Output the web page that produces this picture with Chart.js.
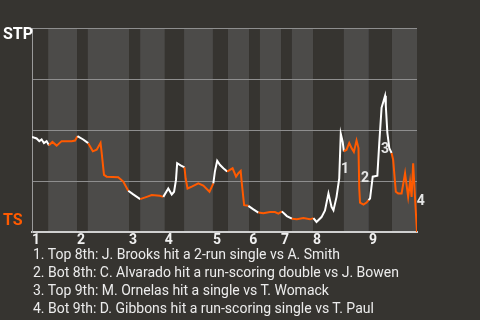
<!DOCTYPE html>
<html>
<head>
<meta charset="utf-8">
<script src="https://cdn.jsdelivr.net/npm/chart.js@4"></script>
<style>
  html, body { margin: 0; padding: 0; background: #363430; }
  #wrap { position: relative; width: 480px; height: 320px; }
  #notes {
    position: absolute; left: 33px; top: 245px;
    font: 14px Roboto, sans-serif; line-height: 18px; color: #ececec;
  }
</style>
</head>
<body>
<div id="wrap">
  <canvas id="wpChart" width="480" height="320"></canvas>
  <div id="notes"></div>
</div>
<script>
// Ход игры: 0..100 по ширине графика, вероятность победы STP в процентах
const gameProgress = [
    0, 1.2, 1.9, 2.5, 3.1, 3.8, 4.4, 5.3, 6.4, 7.7, 10.3, 11.2, 11.8, 13.3, 14.6, 15.8, 16.8, 17.8,
    18.1, 18.7, 19.4, 22.4, 23.7, 25.0, 26.3, 28.1, 29.8, 31.1, 33.2, 34.1, 35.4, 36.3, 36.9, 37.4,
    37.7, 38.6, 39.6, 39.9, 40.4, 41.5, 43.2, 44.5, 46.1, 47.1, 47.5, 48.1, 48.8, 49.7, 50.7, 51.4,
    52.1, 53.0, 53.6, 54.2, 54.5, 55.1, 56.2, 57.5, 58.8, 60.1, 61.8, 63.1, 64.0, 64.9, 66.2, 67.5,
    68.8, 70.5, 72.2, 73.1, 73.9, 75.2, 76.1, 77.0, 77.8, 78.3, 79.1, 79.8, 80.2, 80.7, 81.0, 81.7,
    82.4, 83.0, 83.6, 84.3, 84.8, 85.0, 85.2, 86.1, 86.9, 87.4, 87.8, 88.5, 89.7, 90.2, 90.8, 91.2,
    91.7, 91.9, 92.3, 92.8, 93.4, 93.8, 94.5, 95.1, 96.0, 96.9, 97.3, 97.7, 98.2, 98.6, 99.0, 99.5, 100
];
const stpWinPct = [
    46.7, 45.9, 44.6, 45.4, 43.6, 44.6, 42.6, 44.2, 42.4, 44.6, 44.6, 44.9, 47.0, 45.4, 43.6, 39.6, 40.4, 43.7,
    38.8, 28.1, 27.2, 26.9, 24.8, 20.3, 18.5, 16.2, 17.3, 18.2, 17.8, 17.3, 21.4, 18.5, 19.8, 25.6,
    33.8, 32.7, 31.7, 26.4, 21.4, 22.3, 23.9, 22.8, 19.8, 23.9, 29.7, 35.0, 33.0, 31.3, 29.7, 30.5,
    31.3, 27.2, 28.9, 30.0, 23.9, 13.2, 12.9, 11.2, 9.6, 9.3, 9.9, 9.9, 9.1, 10.2, 7.9, 6.6,
    6.3, 6.9, 6.3, 6.9, 5.0, 7.4, 10.7, 19.0, 12.4, 10.7, 17.3, 26.4, 48.2, 44.2, 39.6, 40.4,
    43.7, 41.2, 39.3, 44.9, 41.2, 21.4, 14.5, 13.5, 14.5, 15.7, 16.5, 27.2, 27.7, 43.7, 61.0, 63.5,
    66.8, 61.9, 48.7, 41.2, 38.8, 35.5, 19.8, 19.0, 19.0, 28.9, 23.1, 17.3, 24.8, 17.3, 33.8, 16.5, 0
];

// Начало каждой половины иннинга (верх, низ, верх, ...)
const halfStarts = [0, 4.2, 11.7, 14.5, 25.2, 28.1, 34.5, 39.5, 47.0, 50.9, 56.4, 59.2, 64.7, 67.5, 73.0, 81.0, 87.5, 93.5];
const gameEnd = 100;
const inningLabels = ['1', '2', '3', '4', '5', '6', '7', '8', '9'];

// Ключевые моменты: номер, место на графике, описание
const keyNums = ['1', '2', '3', '4'];
const keyX = [81.3, 86.5, 91.7, 101.0];
const keyY = [30.7, 26.2, 40.6, 14.9];
const keyNotes = [
    '1. Top 8th: J. Brooks hit a 2-run single vs A. Smith',
    '2. Bot 8th: C. Alvarado hit a run-scoring double vs J. Bowen',
    '3. Top 9th: M. Ornelas hit a single vs T. Womack',
    '4. Bot 9th: D. Gibbons hit a run-scoring single vs T. Paul'
];

const topColor = '#ffffff';
const botColor = '#ff5a00';

function halfIndex(x) {
    let idx = 0;
    for (let i = 0; i < halfStarts.length; i++) {
        if (x >= halfStarts[i]) idx = i;
    }
    return idx;
}

// Полосы иннингов под сеткой
const bandsPlugin = {
    id: 'bands',
    beforeDraw(chart) {
        const { ctx, chartArea } = chart;
        const xs = chart.scales.x;
        ctx.save();
        for (let i = 0; i < halfStarts.length; i++) {
            const x0 = xs.getPixelForValue(halfStarts[i]);
            const x1 = xs.getPixelForValue(i + 1 < halfStarts.length ? halfStarts[i + 1] : gameEnd);
            ctx.fillStyle = i % 2 === 0 ? '#363430' : '#4c4b49';
            ctx.fillRect(x0, chartArea.top, x1 - x0, chartArea.bottom - chartArea.top);
        }
        ctx.restore();
    }
};

// Названия команд и номера ключевых моментов
const labelsPlugin = {
    id: 'labels',
    afterDraw(chart) {
        const { ctx, chartArea } = chart;
        ctx.save();
        ctx.font = 'bold 16px Roboto';
        ctx.textAlign = 'left';
        ctx.textBaseline = 'top';
        ctx.fillStyle = '#ffffff';
        ctx.fillText('STP', 3, chartArea.top - 1);
        ctx.textBaseline = 'bottom';
        ctx.fillStyle = botColor;
        ctx.fillText('TS', 3, chartArea.bottom - 3);

        ctx.font = 'bold 14px Roboto';
        ctx.textAlign = 'center';
        ctx.textBaseline = 'middle';
        ctx.fillStyle = '#e6e6e6';
        keyNums.forEach((n, i) => {
            ctx.fillText(n, chart.scales.x.getPixelForValue(keyX[i]), chart.scales.y.getPixelForValue(keyY[i]));
        });
        ctx.restore();
    }
};

const wpConfig = {
    type: 'line',
    data: {
        datasets: [{
            data: gameProgress.map((x, i) => ({ x: x, y: stpWinPct[i] })),
            borderWidth: 2,
            borderColor: topColor,
            pointRadius: 0,
            tension: 0,
            segment: {
                borderColor: c => halfIndex((c.p0.parsed.x + c.p1.parsed.x) / 2) % 2 === 0 ? topColor : botColor
            }
        }]
    },
    options: {
        responsive: false,
        animation: false,
        layout: { padding: { left: 32, right: 63, top: 28, bottom: 71 } },
        plugins: {
            legend: { display: false },
            tooltip: { enabled: false }
        },
        scales: {
            x: {
                type: 'linear',
                min: 0,
                max: gameEnd,
                afterBuildTicks: scale => {
                    scale.ticks = halfStarts.filter((v, i) => i % 2 === 0).map(v => ({ value: v }));
                },
                ticks: {
                    autoSkip: false,
                    align: 'start',
                    maxRotation: 0,
                    padding: 0,
                    color: '#f0f0f0',
                    font: { family: 'Roboto', size: 14, weight: 'bold' },
                    callback: (v, i) => inningLabels[i]
                },
                grid: { display: false, drawTicks: false },
                border: { display: true, color: '#d0d0d0', width: 2 }
            },
            y: {
                min: 0,
                max: 100,
                ticks: { stepSize: 25, display: false },
                grid: { color: '#8e8e8e', lineWidth: 1, drawTicks: false },
                border: { display: true, color: '#9a9a9a', width: 1 }
            }
        }
    },
    plugins: [bandsPlugin, labelsPlugin]
};

window.onload = function() {
    document.getElementById('notes').innerHTML = keyNotes.map(t => '<div>' + t + '</div>').join('');
    const wpCtx = document.getElementById('wpChart').getContext('2d');
    new Chart(wpCtx, wpConfig);
};
</script>
</body>
</html>
